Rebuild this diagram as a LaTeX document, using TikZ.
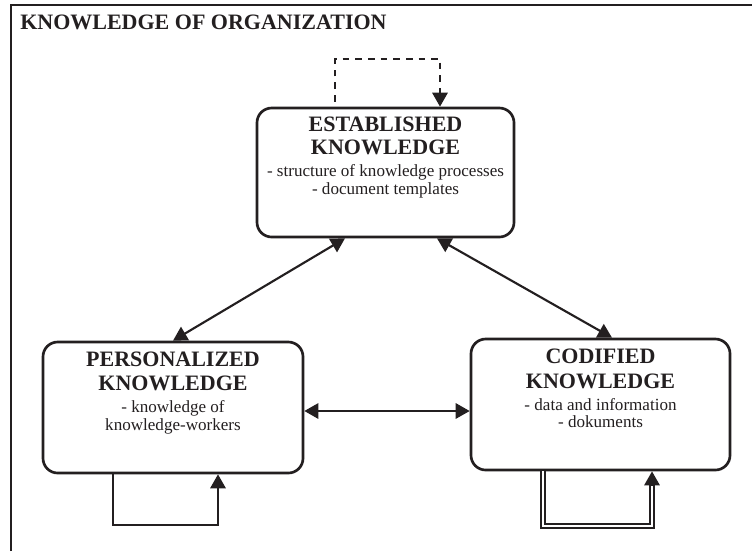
\documentclass[tikz,border=0pt]{standalone}
\usepackage{fontspec}
\setmainfont{Liberation Serif}
\usetikzlibrary{arrows.meta,calc}
\definecolor{ink}{RGB}{35,31,32}
\begin{document}
\begin{tikzpicture}[x=0.75pt,y=-0.75pt,
  kbox/.style={draw=ink, line width=2pt, rounded corners=11pt, inner sep=0pt},
  hd/.style={anchor=base, inner sep=0pt, text=ink, font=\fontsize{16.5}{18}\selectfont\bfseries},
  bd/.style={anchor=base, inner sep=0pt, text=ink, font=\fontsize{12.8}{14}\selectfont},
  conn/.style={draw=ink, line width=1.6pt},
  tip/.style={-{Triangle[length=10.5pt,width=11.5pt]}},
  tips/.style={{Triangle[length=10.5pt,width=11.5pt]}-{Triangle[length=10.5pt,width=11.5pt]}},
  frame/.style={draw=ink, line width=2.2pt},
  dashline/.style={conn, dash pattern=on 5pt off 4.5pt}
]
\useasboundingbox (0,0) rectangle (752,551);
% frame
\draw[frame] (11,551) -- (11,5) -- (752,5);
\node[hd, anchor=base west] (title) at (20,29) {KNOWLEDGE OF ORGANIZATION};

% boxes
\node[kbox, minimum width=192.75pt, minimum height=96.75pt] (est) at (385.5,172.5) {};
\node[kbox, minimum width=195pt, minimum height=98.25pt] (per) at (173,407.5) {};
\node[kbox, minimum width=194.25pt, minimum height=98.25pt] (cod) at (600.5,404.5) {};

% texts
\node[hd] (est1) at (385.5,131) {ESTABLISHED};
\node[hd] (est2) at (385.5,154) {KNOWLEDGE};
\node[bd] (est3) at (385.5,176) {- structure of knowledge processes};
\node[bd] (est4) at (385.5,194) {- document templates};

\node[hd] (per1) at (173,366) {PERSONALIZED};
\node[hd] (per2) at (173,390) {KNOWLEDGE};
\node[bd] (per3) at (173,412) {- knowledge of};
\node[bd] (per4) at (173,430) {knowledge-workers};

\node[hd] (cod1) at (600.5,363) {CODIFIED};
\node[hd] (cod2) at (600.5,388) {KNOWLEDGE};
\node[bd] (cod3) at (600.5,410) {- data and information};
\node[bd] (cod4) at (600.5,427) {- dokuments};

% connectors
\draw[conn, tips] ($(est.south)+(-40.5,0)$) -- (per.north);
\draw[conn, tips] ($(est.south)+(51.5,0)$) -- ($(cod.north)+(11.5,0)$);
\draw[conn, tips] ($(per.east)+(0,3.5)$) -- ($(cod.west)+(0,6.5)$);

% self loops
\draw[conn, tip] ($(per.south)+(-60,0)$) -- ++(0,51) -| ($(per.south)+(45,0)$);
\draw[draw=ink, line width=1.4pt, double=white, double distance=1.6pt]
  ($(cod.south)+(-57.5,0)$) -- ++(0,55) -| ($(cod.south)+(51.5,12)$);
\draw[conn, tip] ($(cod.south)+(51.5,14)$) -- ($(cod.south)+(51.5,0)$);

% dashed loop
\draw[dashline, tip] ($(est.north)+(-50.5,-5)$) -- ($(est.north)+(-50.5,-48)$) -| (est.north -| 440,0);
\end{tikzpicture}
\end{document}
